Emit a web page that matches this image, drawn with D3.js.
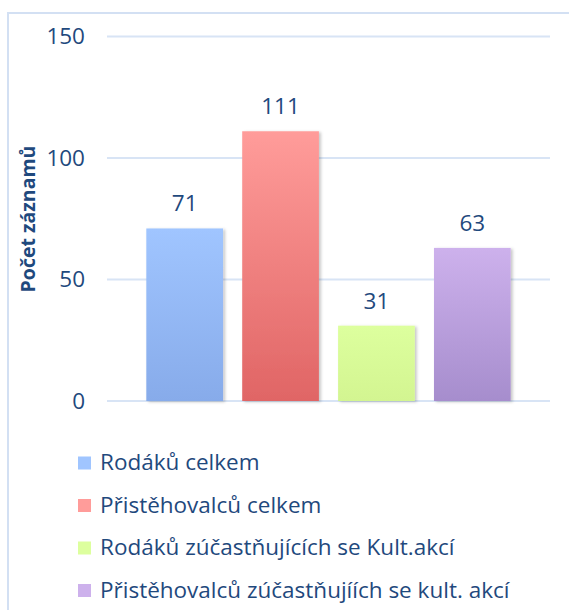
<!DOCTYPE html>
<html>
<head>
<meta charset="utf-8">
<script src="https://cdn.jsdelivr.net/npm/d3@7"></script>
<style>
  html, body { margin: 0; padding: 0; background: #fff; }
  svg { display: block; font-family: 'Open Sans', sans-serif; }
</style>
</head>
<body>
<svg id="chart" width="569" height="610"></svg>
<script>
// data
const categories = [
  'Rodáků celkem',
  'Přistěhovalců celkem',
  'Rodáků zúčastňujících se Kult.akcí',
  'Přistěhovalců zúčastňujíích se kult. akcí',
]
const values = [71, 111, 31, 63]
const yTicks = [0, 50, 100, 150]
const axisTitle = 'Počet záznamů'

// barvy: vrch / spodek sloupce
const colorsTop = ['#a0c5ff', '#ff9c9a', '#ddff9e', '#cdb1ec']
const colorsBottom = ['#87abea', '#e06565', '#d3f591', '#a68dcd']
const textColor = '#1f497d'
const fontSize = 22.5

const svg = d3.select('#chart')
const defs = svg.append('defs')

colorsTop.forEach((c, i) => {
  const g = defs.append('linearGradient')
    .attr('id', 'grad' + i)
    .attr('x1', 0).attr('y1', 0).attr('x2', 0).attr('y2', 1)
  g.append('stop').attr('offset', '0%').attr('stop-color', c)
  g.append('stop').attr('offset', '100%').attr('stop-color', colorsBottom[i])
})

const shadow = defs.append('filter').attr('id', 'shadow')
  .attr('x', '-20%').attr('y', '-10%').attr('width', '140%').attr('height', '120%')
shadow.append('feDropShadow')
  .attr('dx', 2).attr('dy', 1).attr('stdDeviation', 1.6)
  .attr('flood-color', '#000').attr('flood-opacity', 0.22)

// rámeček
svg.append('rect')
  .attr('x', 8).attr('y', 13)
  .attr('width', 600).attr('height', 640)
  .attr('fill', 'none')
  .attr('stroke', '#d3e0f3')
  .attr('stroke-width', 2)

// měřítka
const x = d3.scaleBand()
  .domain(categories)
  .range([107, 550])
  .paddingInner(0.2)
  .paddingOuter(0.41)

const y = d3.scaleLinear()
  .domain([0, 150])
  .range([401, 36.5])

// mřížka
svg.append('g')
  .selectAll('line')
  .data(yTicks)
  .join('line')
  .attr('x1', 107).attr('x2', 550)
  .attr('y1', (d) => y(d)).attr('y2', (d) => y(d))
  .attr('stroke', '#d8e4f5')
  .attr('stroke-width', 2)

// osa Y
const axisY = svg.append('g')
  .attr('transform', 'translate(85,0)')
  .call(d3.axisLeft(y).tickValues(yTicks).tickSize(0).tickPadding(0))
axisY.select('.domain').remove()
axisY.selectAll('text')
  .attr('fill', textColor)
  .attr('font-size', fontSize)
  .attr('font-family', "'Open Sans', sans-serif")

svg.append('text')
  .attr('transform', 'translate(35,219) rotate(-90)')
  .attr('text-anchor', 'middle')
  .attr('fill', textColor)
  .attr('font-size', 19.5)
  .attr('font-weight', 'bold')
  .text(axisTitle)

// sloupce
svg.append('g')
  .selectAll('rect')
  .data(values)
  .join('rect')
  .attr('x', (d, i) => x(categories[i]))
  .attr('width', x.bandwidth())
  .attr('y', (d) => y(d))
  .attr('height', (d) => y(0) - y(d))
  .attr('fill', (d, i) => `url(#grad${i})`)
  .attr('filter', 'url(#shadow)')

// hodnoty
svg.append('g')
  .selectAll('text')
  .data(values)
  .join('text')
  .attr('x', (d, i) => x(categories[i]) + x.bandwidth() / 2)
  .attr('y', (d) => y(d) - 17)
  .attr('text-anchor', 'middle')
  .attr('fill', textColor)
  .attr('font-size', fontSize)
  .text((d) => d)

// legenda
const legend = svg.append('g')
  .selectAll('g')
  .data(categories)
  .join('g')
  .attr('transform', (d, i) => `translate(78,${462.5 + i * 42.5})`)

legend.append('rect')
  .attr('x', 0).attr('y', -6)
  .attr('width', 13).attr('height', 13)
  .attr('fill', (d, i) => colorsTop[i])

legend.append('text')
  .attr('x', 22)
  .attr('y', 0)
  .attr('dy', '0.35em')
  .attr('fill', textColor)
  .attr('font-size', fontSize)
  .text((d) => d)
</script>
</body>
</html>
